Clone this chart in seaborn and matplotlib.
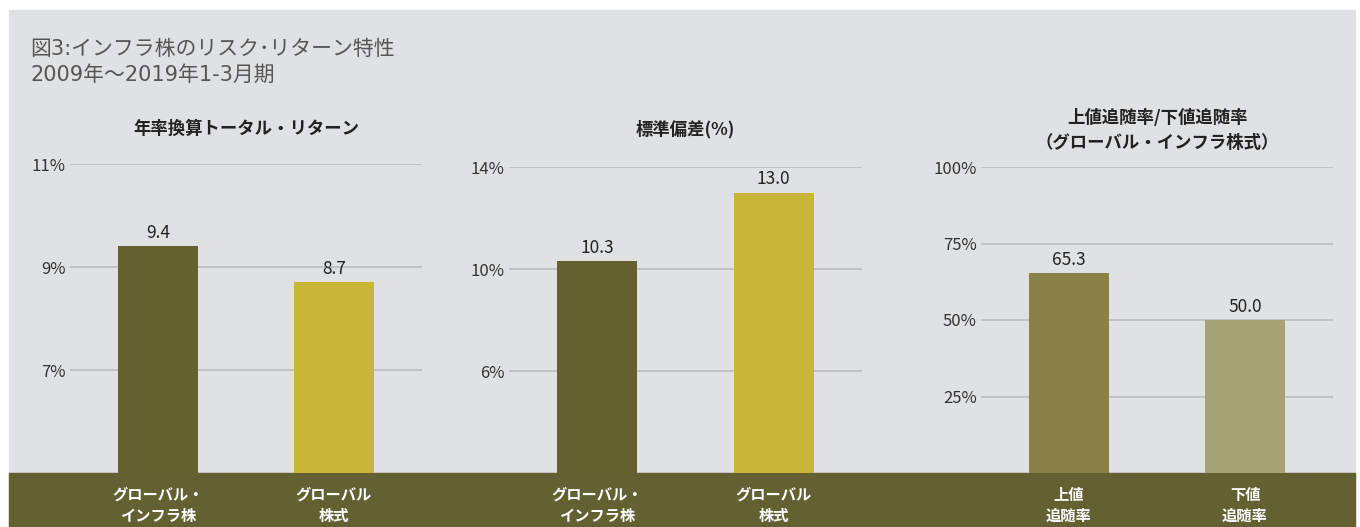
import matplotlib
matplotlib.use("Agg")
import matplotlib.pyplot as plt
from matplotlib.patches import Rectangle
import seaborn as sns
import pandas as pd

# ---- data ----
title_main = "図3:インフラ株のリスク･リターン特性"
title_sub = "2009年～2019年1-3月期"

p1_title = "年率換算トータル・リターン"
p1_labels = ["グローバル・\nインフラ株", "グローバル\n株式"]
p1_values = [9.4, 8.7]
p1_ticks = [7, 9, 11]
p1_ylim = (5, 11)

p2_title = "標準偏差(%)"
p2_labels = ["グローバル・\nインフラ株", "グローバル\n株式"]
p2_values = [10.3, 13.0]
p2_ticks = [6, 10, 14]
p2_ylim = (2, 14)

p3_title = "上値追随率/下値追随率\n（グローバル・インフラ株式）"
p3_labels = ["上値\n追随率", "下値\n追随率"]
p3_values = [65.3, 50.0]
p3_ticks = [25, 50, 75, 100]
p3_ylim = (0, 100)

# colours
bg_gray = "#e0e1e3"
band_col = "#636031"
grid_col = "#bdbec0"
p1_colors = ["#646131", "#c9b638"]
p2_colors = ["#646131", "#c9b638"]
p3_colors = ["#8a8148", "#a6a274"]

W, H = 1360, 527

sns.set_theme(style="white")
plt.rcParams['font.family'] = ['Noto Sans CJK JP', 'DejaVu Sans']
head_font = ['DejaVu Sans', 'Noto Sans CJK JP']

fig = plt.figure(figsize=(W / 100, H / 100), dpi=100)
fig.patch.set_facecolor("white")


def px_box(x0, y0, x1, y1):
    # pixel box (top-left origin) -> figure fraction [l, b, w, h]
    return [x0 / W, 1 - y1 / H, (x1 - x0) / W, (y1 - y0) / H]


# gray panel and olive footer band
fig.add_artist(Rectangle((9 / W, 0), (1355 - 9) / W, (H - 10) / H,
                         transform=fig.transFigure, color=bg_gray, zorder=-10))
fig.add_artist(Rectangle((9 / W, 0), (1355 - 9) / W, (H - 473) / H,
                         transform=fig.transFigure, color=band_col, zorder=-9))

fig.text(30 / W, 1 - 49 / H, title_main, fontsize=15, color="#555555",
         va="center", ha="left", family=head_font)
fig.text(30 / W, 1 - 75 / H, title_sub, fontsize=15, color="#555555",
         va="center", ha="left", family=head_font)


def draw_panel(box, labels, values, colors, ticks, ylim, title, title_y):
    ax = fig.add_axes(px_box(*box))
    df = pd.DataFrame({"label": labels, "value": values})
    sns.barplot(data=df, x="label", y="value", hue="label", palette=colors,
                legend=False, width=0.455, saturation=1, linewidth=0, ax=ax)
    ax.set_ylim(*ylim)
    ax.set_xlim(-0.5, 1.5)
    ax.set_facecolor("none")
    for s in ax.spines.values():
        s.set_visible(False)
    ax.set_yticks(ticks)
    ax.set_yticklabels([f"{t}%" for t in ticks], fontsize=12, color="#333333")
    ax.yaxis.grid(True, color=grid_col, lw=1.3)
    ax.set_axisbelow(True)
    ax.tick_params(axis="y", length=0, pad=3)
    ax.tick_params(axis="x", length=0, pad=10)
    for lbl in ax.get_xticklabels():
        lbl.set_color("white")
        lbl.set_fontsize(11)
        lbl.set_fontweight("bold")
        lbl.set_linespacing(1.4)
    ax.set_xlabel("")
    ax.set_ylabel("")
    for c in ax.containers:
        ax.bar_label(c, fmt="%.1f", padding=3, fontsize=12.5, color="#222222")
    cx = (box[0] + box[2]) / 2
    fig.text(cx / W, 1 - title_y / H, title, fontsize=12.5, fontweight="bold",
             color="#222222", ha="center", va="center", linespacing=1.5)
    return ax


draw_panel((70, 164, 422, 473), p1_labels, p1_values, p1_colors,
           p1_ticks, p1_ylim, p1_title, 129)
draw_panel((509, 167, 862, 473), p2_labels, p2_values, p2_colors,
           p2_ticks, p2_ylim, p2_title, 129)
draw_panel((981, 167, 1333, 473), p3_labels, p3_values, p3_colors,
           p3_ticks, p3_ylim, p3_title, 130)

fig.savefig("out.png", dpi=100)
